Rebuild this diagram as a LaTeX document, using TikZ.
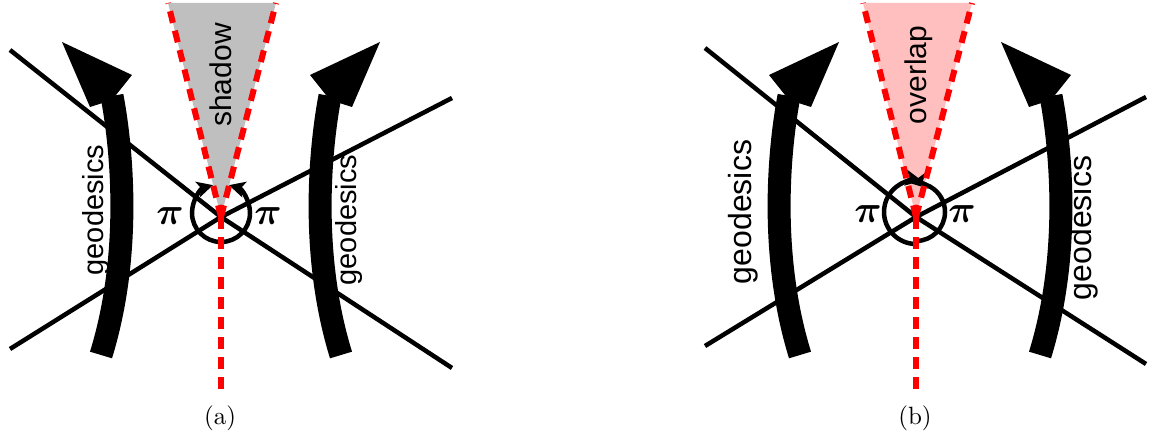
\documentclass[tikz,border=0pt]{standalone}
\usepackage{amsmath,amssymb}
\usepackage{fontspec}
\setsansfont{Liberation Sans}
\usepackage{tikz}
\usetikzlibrary{arrows.meta}
\definecolor{cut}{HTML}{FF0000}
\definecolor{shadowgray}{HTML}{BFBFBF}
\definecolor{blush}{HTML}{FFBFBF}

\begin{document}
\begin{tikzpicture}[
  x=1pt, y=1pt,
  ray/.style={line width=4.5pt},
  seam/.style={draw=cut, line width=6pt, dash pattern=on 12pt off 8pt},
  shaft/.style={line width=23pt},
  head/.style={fill=black},
  turn/.style={line width=4.5pt, -{Stealth[length=16pt, width=16pt, inset=4pt]}},
  geolabel/.style={font=\sffamily\fontsize{29}{34}\selectfont, rotate=90, inner sep=0pt},
  biglabel/.style={font=\sffamily\fontsize{32}{38}\selectfont, rotate=90, inner sep=0pt},
  anglabel/.style={scale=3.8, inner sep=0pt},
  figcap/.style={scale=2.5, inner sep=0pt}
]
\useasboundingbox (0,0) rectangle (1150,438);

\coordinate (ca) at (221,221);
\coordinate (cb) at (916,221);
% centres of the angle circles (a little above the crossings)
\coordinate (oa) at (221,225);
\coordinate (ob) at (916,226);

% wedges
\fill[shadowgray] (ca) -- (168,435) -- (276,435) -- cycle;
\fill[blush] (cb) -- (863,435) -- (972,435) -- cycle;

% (a) -- crossing lines
\draw[ray] (10,388) -- (ca) -- (452,70);
\draw[ray] (10,89) -- (ca) -- (452,340);

% (b) -- crossing lines
\draw[ray] (705,390) -- (cb) -- (1146,74);
\draw[ray] (705,92) -- (cb) -- (1146,341);

% (a) -- geodesic arrows
\draw[shaft] (101,83) .. controls (134,190) and (120,300) .. (112,342);
\fill[head] (62,396) -- (132,363) -- (112,338) -- (90,331) -- cycle;
\draw[shaft] (341,83) .. controls (308,190) and (322,300) .. (330,342);
\fill[head] (380,396) -- (310,363) -- (330,338) -- (352,331) -- cycle;

% (b) -- geodesic arrows
\draw[shaft] (800,83) .. controls (767,190) and (781,300) .. (789,342);
\fill[head] (839,396) -- (769,363) -- (789,338) -- (811,331) -- cycle;
\draw[shaft] (1040,83) .. controls (1073,190) and (1059,300) .. (1051,342);
\fill[head] (1001,396) -- (1071,363) -- (1051,338) -- (1029,331) -- cycle;

% angles round the apex
\draw[turn] (oa) ++(270:29) arc[start angle=270, end angle=106, radius=29];
\draw[turn] (oa) ++(-90:29) arc[start angle=-90, end angle=74, radius=29];
\draw[turn] (ob) ++(270:32) arc[start angle=270, end angle=80, radius=32];
\draw[turn] (ob) ++(-90:29) arc[start angle=-90, end angle=100, radius=29];

% dashed seams
\draw[seam] (ca) -- (168,435);
\draw[seam] (ca) -- (276,435);
\draw[seam] (ca) -- (221,48);
\draw[seam] (cb) -- (863,435);
\draw[seam] (cb) -- (972,435);
\draw[seam] (cb) -- (916,48);

% labels
\node[geolabel] (geoal) at (96,228) {geodesics};
\node[geolabel] (geoar) at (349,218) {geodesics};
\node[biglabel] (geobl) at (743,226) {geodesics};
\node[biglabel] (geobr) at (1083,210) {geodesics};
\node[geolabel, font=\sffamily\fontsize{30}{36}\selectfont] (shadow) at (221,363) {shadow};
\node[geolabel, font=\sffamily\fontsize{30}{36}\selectfont] (overlap) at (919,363) {overlap};
\node[anglabel] (pial) at (170,222) {$\boldsymbol{\pi}$};
\node[anglabel] (piar) at (268,222) {$\boldsymbol{\pi}$};
\node[anglabel] (pibl) at (868,224) {$\boldsymbol{\pi}$};
\node[anglabel] (pibr) at (962,224) {$\boldsymbol{\pi}$};
\node[figcap] (capa) at (220,20) {(a)};
\node[figcap] (capb) at (915,20) {(b)};
\end{tikzpicture}
\end{document}
